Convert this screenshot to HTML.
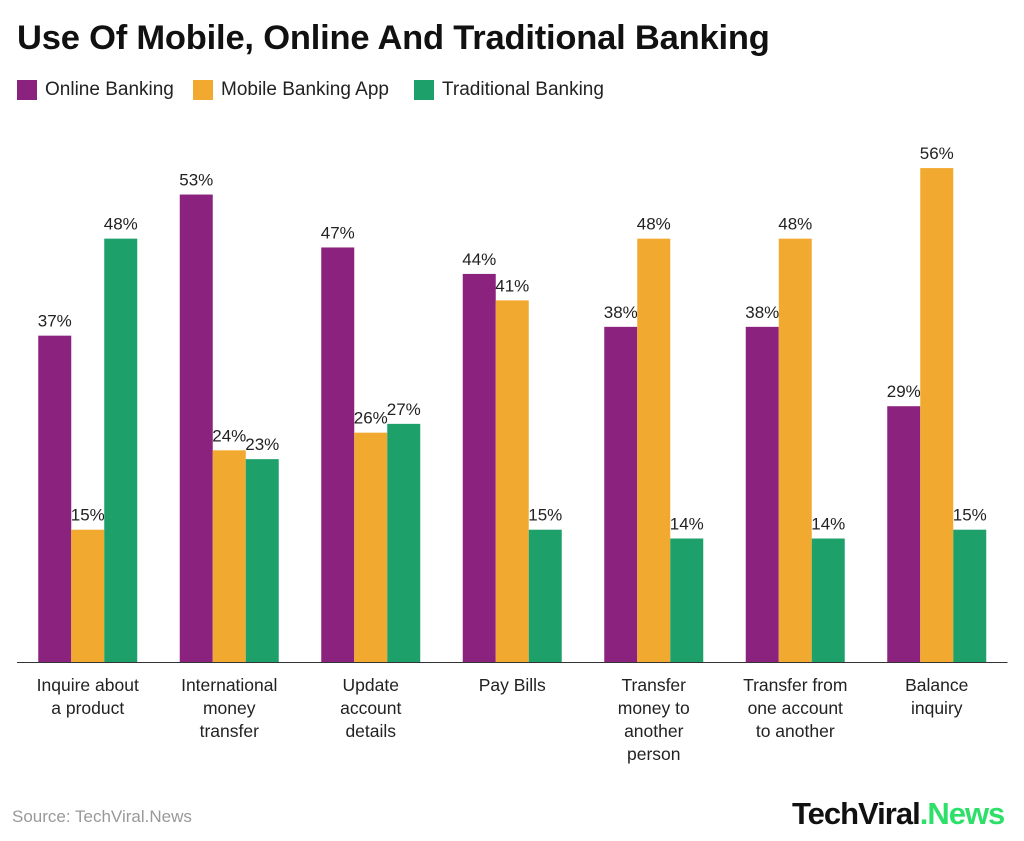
<!DOCTYPE html>
<html><head><meta charset="utf-8"><style>
body{margin:0;width:1024px;height:841px;background:#fff;font-family:"Liberation Sans",sans-serif;overflow:hidden;position:relative}
#title{position:absolute;left:17px;top:19px;font-size:34.5px;font-weight:bold;color:#111;letter-spacing:-0.2px}
.leg{position:absolute;top:79px;font-size:19px;color:#222;display:flex;align-items:center}
.sw{width:20px;height:20px;margin-right:8px}
#src{position:absolute;left:12px;top:807px;font-size:17px;color:#999}
#logo{position:absolute;left:792px;top:796px;font-size:31px;font-weight:bold;color:#111;letter-spacing:-1px}
</style></head><body>
<div id="title">Use Of Mobile, Online And Traditional Banking</div>
<div class="leg" style="left:17px"><div class="sw" style="background:#8B237E"></div>Online Banking</div>
<div class="leg" style="left:193px"><div class="sw" style="background:#F2A930"></div>Mobile Banking App</div>
<div class="leg" style="left:414px"><div class="sw" style="background:#1EA06B"></div>Traditional Banking</div>
<svg id="chart" width="1024" height="841" style="position:absolute;left:0;top:0"></svg>
<div id="src">Source: TechViral.News</div>
<div id="logo">TechViral<span style="color:#2EE06A">.News</span></div>
<script>
const categories=[["Inquire about","a product"],["International","money","transfer"],["Update","account","details"],["Pay Bills"],["Transfer","money to","another","person"],["Transfer from","one account","to another"],["Balance","inquiry"]];
const online=[37,53,47,44,38,38,29];
const mobile=[15,24,26,41,48,48,56];
const traditional=[48,23,27,15,14,14,15];
const series=[online,mobile,traditional];
const colors=["#8B237E","#F2A930","#1EA06B"];
const names=["online","mobile","traditional"];
const base=662,scale=8.82,x0=17,gw=141.5,bw=33;
const y=v=>base-v*scale;
const svg=document.getElementById('chart');const NS="http://www.w3.org/2000/svg";
function mk(t,a){const e=document.createElementNS(NS,t);for(const k in a)e.setAttribute(k,a[k]);svg.appendChild(e);return e;}
categories.forEach((c,i)=>{
 const cx=x0+gw*i+gw/2;
 series.forEach((s,j)=>{
  const bx=cx-1.5*bw+j*bw;
  const r=mk('rect',{x:bx,y:y(s[i]),width:bw,height:s[i]*scale,fill:colors[j]});
  
  
  const t=mk('text',{x:bx+bw/2,y:y(s[i])-9,'text-anchor':'middle','font-size':17,fill:'#222','font-family':'Liberation Sans'});
  t.textContent=s[i]+'%';
  
  
 });
 c.forEach((l,k)=>{
  const t=mk('text',{x:cx,y:691+k*23,'text-anchor':'middle','font-size':17.5,fill:'#222','font-family':'Liberation Sans'});
  t.textContent=l;
  
  
 });
});
const ax=mk('line',{x1:x0,x2:x0+gw*7,y1:base+0.5,y2:base+0.5,stroke:'#333','stroke-width':1});


</script>
</body></html>
